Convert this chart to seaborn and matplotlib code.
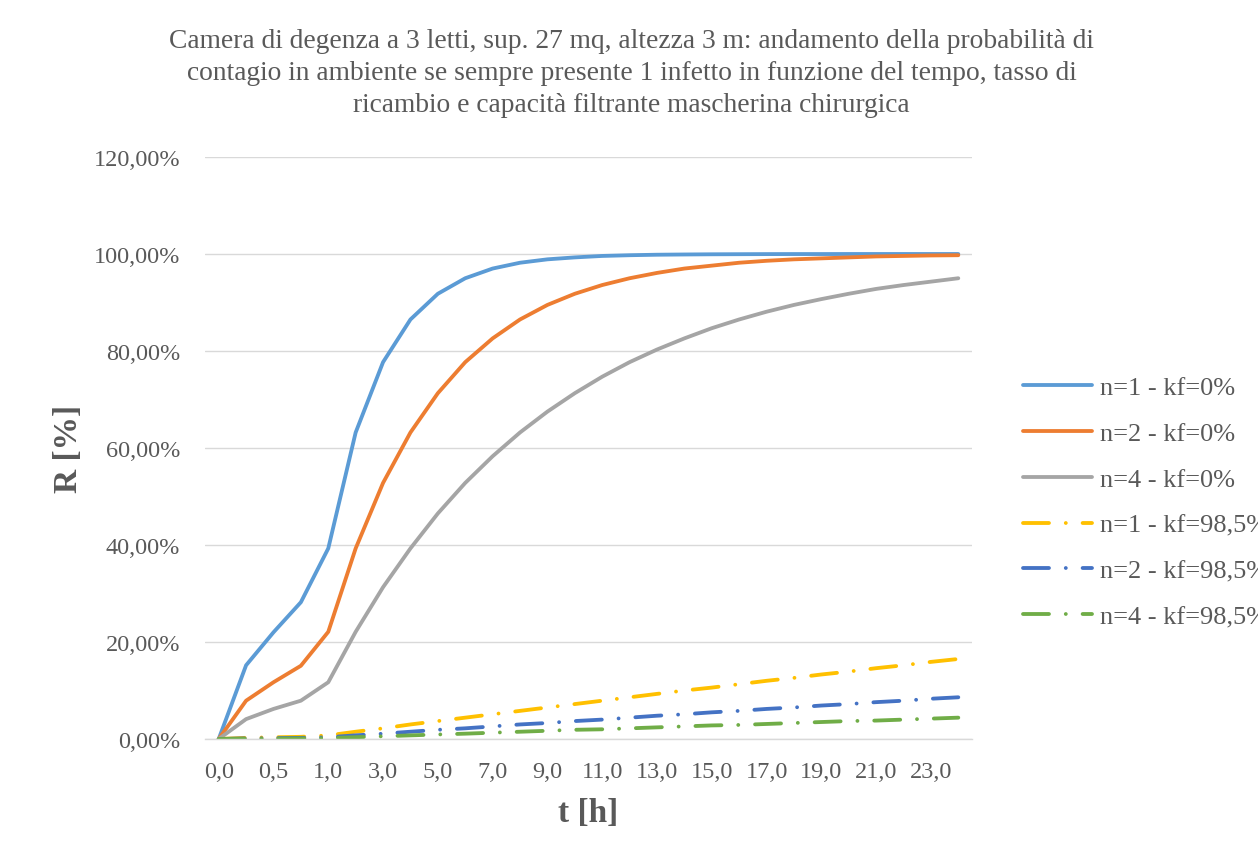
import matplotlib
matplotlib.use("Agg")
import matplotlib.pyplot as plt
from matplotlib.lines import Line2D
import seaborn as sns
import pandas as pd

# Time steps (hours) – categorical axis
t_hours = [0, 0.25, 0.5, 0.75] + list(range(1, 25))

# Probability of infection R [%]
r_n1_kf0 = [0, 15.2, 22.0, 28.2, 39.3, 63.2, 77.7, 86.5, 91.8, 95.0, 97.0, 98.2,
            98.9, 99.3, 99.6, 99.75, 99.85, 99.9, 99.94, 99.96, 99.98, 99.99,
            99.99, 100, 100, 100, 100, 100]
r_n2_kf0 = [0, 7.9, 11.7, 15.1, 22.1, 39.3, 52.8, 63.2, 71.3, 77.7, 82.6, 86.5,
            89.5, 91.8, 93.6, 95.0, 96.1, 97.0, 97.6, 98.2, 98.6, 98.9, 99.1,
            99.3, 99.5, 99.6, 99.7, 99.75]
r_n4_kf0 = [0, 4.1, 6.2, 7.9, 11.7, 22.1, 31.3, 39.3, 46.5, 52.8, 58.3, 63.2,
            67.5, 71.3, 74.7, 77.7, 80.3, 82.6, 84.7, 86.5, 88.1, 89.5, 90.7,
            91.8, 92.8, 93.6, 94.3, 95.0]
r_n1_kf985 = [0, 0.25, 0.35, 0.45, 0.75, 1.5, 2.2, 3.0, 3.7, 4.4, 5.1, 5.8, 6.5,
              7.2, 7.9, 8.6, 9.3, 10.0, 10.6, 11.3, 12.0, 12.6, 13.3, 13.9,
              14.6, 15.2, 15.9, 16.5]
r_n2_kf985 = [0, 0.12, 0.18, 0.23, 0.37, 0.75, 1.1, 1.5, 1.9, 2.2, 2.6, 3.0, 3.3,
              3.7, 4.0, 4.4, 4.8, 5.1, 5.5, 5.8, 6.2, 6.5, 6.9, 7.2, 7.6, 7.9,
              8.3, 8.6]
r_n4_kf985 = [0, 0.06, 0.09, 0.12, 0.19, 0.37, 0.56, 0.75, 0.93, 1.1, 1.3, 1.5,
              1.7, 1.9, 2.0, 2.2, 2.4, 2.6, 2.8, 2.9, 3.1, 3.3, 3.5, 3.7, 3.8,
              4.0, 4.2, 4.4]

series_names = ["n=1 - kf=0%", "n=2 - kf=0%", "n=4 - kf=0%",
                "n=1 - kf=98,5%", "n=2 - kf=98,5%", "n=4 - kf=98,5%"]
series_values = [r_n1_kf0, r_n2_kf0, r_n4_kf0, r_n1_kf985, r_n2_kf985, r_n4_kf985]

title_text = ("Camera di degenza a 3 letti, sup. 27 mq, altezza 3 m: andamento della probabilità di\n"
              "contagio in ambiente se sempre presente 1 infetto in funzione del tempo, tasso di\n"
              "ricambio e capacità filtrante mascherina chirurgica")

colors = ["#5B9BD5", "#ED7D31", "#A5A5A5", "#FFC000", "#4472C4", "#70AD47"]
LW = 2.75
dash_dot = (6.8, 4.4, 0.01, 4.4)
dash_styles = ["", "", "", dash_dot, dash_dot, dash_dot]

sns.set_theme(style="white")
plt.rcParams["font.family"] = ["Liberation Serif", "DejaVu Serif"]
TXT = "#595959"

rows = []
for name, vals in zip(series_names, series_values):
    for i, (t, v) in enumerate(zip(t_hours, vals)):
        rows.append({"pos": i, "t": t, "R": v, "serie": name})
df = pd.DataFrame(rows)

fig = plt.figure(figsize=(12.58, 8.54), dpi=100)
ax = fig.add_axes([205 / 1258, 1 - 740 / 854, (972 - 205) / 1258, (740 - 158) / 854])

sns.lineplot(data=df, x="pos", y="R", hue="serie", style="serie",
             palette=dict(zip(series_names, colors)),
             dashes=dict(zip(series_names, dash_styles)),
             linewidth=LW, ax=ax, legend=False, sort=False)
for line in ax.get_lines():
    line.set_dash_capstyle("round")
    line.set_solid_capstyle("round")
    line.set_solid_joinstyle("round")

ax.set_xlim(-0.5, len(t_hours) - 0.5)
ax.set_ylim(0, 120)

# y axis
yt = list(range(0, 121, 20))
ax.set_yticks(yt)
ax.set_yticklabels([f"{v:.2f}".replace(".", ",") + "%" for v in yt])
ax.yaxis.grid(True, color="#D9D9D9", linewidth=1.0)
ax.xaxis.grid(False)
ax.tick_params(axis="y", length=0, pad=18, labelsize=17.5, labelcolor=TXT)

# x axis: every other category labelled
xt = list(range(0, len(t_hours), 2))
ax.set_xticks(xt)
ax.set_xticklabels([f"{t_hours[i]:.1f}".replace(".", ",") for i in xt])
ax.tick_params(axis="x", length=0, pad=16, labelsize=17.5, labelcolor=TXT)

for s in ["top", "right", "left"]:
    ax.spines[s].set_visible(False)
ax.spines["bottom"].set_color("#D9D9D9")
ax.spines["bottom"].set_linewidth(1.0)
ax.set_axisbelow(True)

ax.set_xlabel("t [h]", fontsize=24, fontweight="bold", color=TXT, labelpad=11)
ax.set_ylabel("R [%]", fontsize=24, fontweight="bold", color=TXT, labelpad=7)

fig.text(0.502, 1 - 29 / 854, title_text, ha="center", va="top",
         fontsize=19.8, color=TXT, linespacing=1.37)

# legend
handles = []
for c, d in zip(colors, dash_styles):
    h = Line2D([], [], color=c, linewidth=LW, dash_capstyle="round",
               solid_capstyle="round")
    if d:
        h.set_dashes(d)
    handles.append(h)
leg = fig.legend(handles, series_names, loc="upper left",
                 bbox_to_anchor=(1012 / 1258, 1 - 366 / 854),
                 frameon=False, fontsize=19, handlelength=2.65,
                 handletextpad=0.27, labelspacing=0.85, borderaxespad=0)
for txt in leg.get_texts():
    txt.set_color(TXT)

fig.savefig("out.png", dpi=100)
